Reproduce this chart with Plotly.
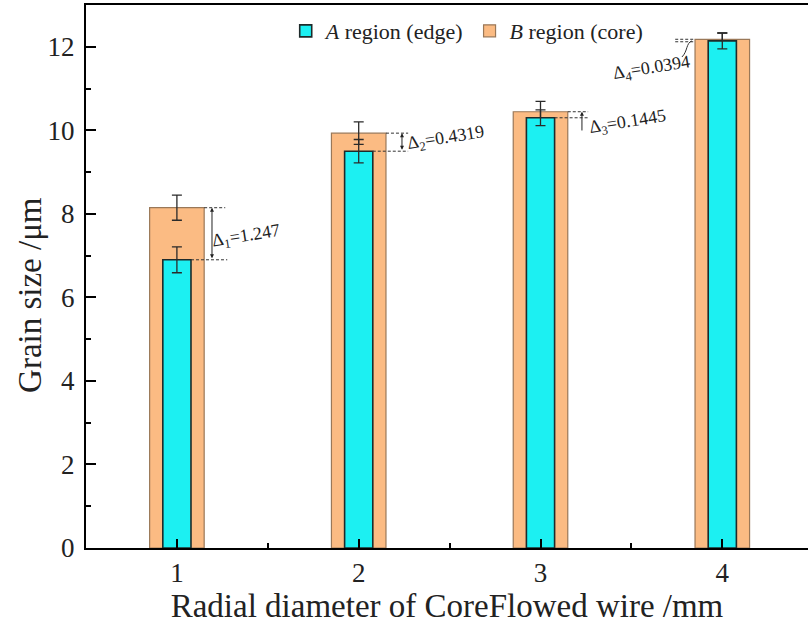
import plotly.graph_objects as go

# Grain size of CoreFlowed wire: edge (A) vs core (B) regions
categories = [1, 2, 3, 4]
edge_A = [6.90, 9.50, 10.30, 12.14]
core_B = [8.147, 9.932, 10.4445, 12.1794]
err_A = [0.31, 0.28, 0.19, 0.19]
err_B = [0.30, 0.27, 0.25, 0.15]
delta_labels = ["1.247", "0.4319", "0.1445", "0.0394"]

WIDTH_B = 0.30
WIDTH_A = 0.155
FONT = "Liberation Serif, Times New Roman, serif"
INK = "#222222"

fig = go.Figure()
fig.add_bar(
    x=categories, y=core_B, width=WIDTH_B, name="<i>B</i> region (core)",
    legendrank=2,
    marker=dict(color="#FBBB83", line=dict(color="#9A7858", width=1.2)),
    error_y=dict(type="data", array=err_B, color="#2a2a2a", thickness=1.3, width=5),
)
fig.add_bar(
    x=categories, y=edge_A, width=WIDTH_A, name="<i>A</i> region (edge)",
    legendrank=1,
    marker=dict(color="#1CF0F2", line=dict(color="#1E2B2B", width=1.6)),
    error_y=dict(type="data", array=err_A, color="#2a2a2a", thickness=1.3, width=5),
)

dash = dict(color="#333333", width=1, dash="3px,2px")
shapes = []
annotations = []

# per-group placement of the difference markers (offsets from the bar centre)
marks = [
    dict(endB=0.266, endA=0.277, arrow=0.193, both=True, tail=0.0, tx=0.385, ty=-0.70),
    dict(endB=0.272, endA=0.272, arrow=0.238, both=True, tail=0.0, tx=0.48, ty=-0.12),
    dict(endB=0.262, endA=0.262, arrow=0.228, both=False, tail=0.34, tx=0.482, ty=-0.26),
]
for i, m in enumerate(marks):
    c, a, b = categories[i], edge_A[i], core_B[i]
    shapes.append(dict(type="line", xref="x", yref="y", x0=c + WIDTH_B / 2, x1=c + m["endB"], y0=b, y1=b, line=dash))
    shapes.append(dict(type="line", xref="x", yref="y", x0=c + WIDTH_A / 2, x1=c + m["endA"], y0=a, y1=a, line=dash))
    annotations.append(dict(
        x=c + m["arrow"], y=b, ax=c + m["arrow"], ay=a - m["tail"],
        xref="x", yref="y", axref="x", ayref="y", text="", showarrow=True,
        arrowhead=2, arrowsize=0.8, arrowwidth=1, arrowcolor="#222222",
        arrowside="end+start" if m["both"] else "end",
    ))
    annotations.append(dict(
        x=c + m["tx"], y=b + m["ty"], xref="x", yref="y",
        text=f"Δ<sub>{i + 1}</sub>=" + delta_labels[i], showarrow=False, textangle=-9,
        font=dict(family=FONT, size=18, color=INK),
    ))

# last group: short dashed lines on the left with a curved leader
c, a, b = categories[3], edge_A[3], core_B[3]
shapes.append(dict(type="line", xref="x", yref="y", x0=c - 0.259, x1=c - WIDTH_B / 2, y0=b, y1=b, line=dash))
shapes.append(dict(type="line", xref="x", yref="y", x0=c - 0.259, x1=c - WIDTH_B / 2, y0=a - 0.02, y1=a - 0.02, line=dash))
shapes.append(dict(
    type="path", xref="x", yref="y",
    path=f"M {c - 0.167},{a} C {c - 0.20},{a - 0.05} {c - 0.19},{a - 0.25} {c - 0.222},{a - 0.385}",
    line=dict(color="#333333", width=1),
))
annotations.append(dict(
    x=c - 0.385, y=a - 0.67, xref="x", yref="y",
    text=f"Δ<sub>4</sub>=" + delta_labels[3], showarrow=False, textangle=-9,
    font=dict(family=FONT, size=18, color=INK),
))

# y-axis title, set slightly below the plot's mid-height
annotations.append(dict(
    x=-0.0776, y=0.466, xref="paper", yref="paper", xanchor="center", yanchor="middle",
    text="Grain size /μm", textangle=-90, showarrow=False,
    font=dict(family=FONT, size=33, color=INK),
))

fig.update_layout(
    width=808, height=626,
    margin=dict(l=86, r=0, t=5, b=78),
    paper_bgcolor="white", plot_bgcolor="white",
    barmode="overlay",
    font=dict(family=FONT, color=INK),
    shapes=shapes, annotations=annotations,
    legend=dict(
        orientation="h", x=0.528, xanchor="center", y=0.952, yanchor="middle",
        font=dict(family=FONT, size=22, color=INK), bgcolor="rgba(0,0,0,0)",
    ),
    xaxis=dict(
        range=[0.5, 4.4714], tickvals=categories, ticktext=[str(v) for v in categories],
        ticks="inside", ticklen=9, tickwidth=1.5, tickcolor="black",
        minor=dict(tickvals=[1.5, 2.5, 3.5], ticks="inside", ticklen=5, tickwidth=1.5, tickcolor="black"),
        showline=True, linewidth=2, linecolor="black", mirror=True,
        showgrid=False, zeroline=False,
        tickfont=dict(family=FONT, size=27, color=INK),
        title=dict(text="Radial diameter of CoreFlowed wire /mm", font=dict(family=FONT, size=33, color=INK), standoff=2),
    ),
    yaxis=dict(
        range=[0, 13.0], dtick=2, tick0=0,
        ticks="inside", ticklen=10, tickwidth=1.5, tickcolor="black",
        minor=dict(dtick=1, ticks="inside", ticklen=5, tickwidth=1.5, tickcolor="black"),
        showline=True, linewidth=2, linecolor="black", mirror=False,
        showgrid=False, zeroline=False,
        ticklabelstandoff=4,
        tickfont=dict(family=FONT, size=27, color=INK),
    ),
)

fig.write_html("out.html")
